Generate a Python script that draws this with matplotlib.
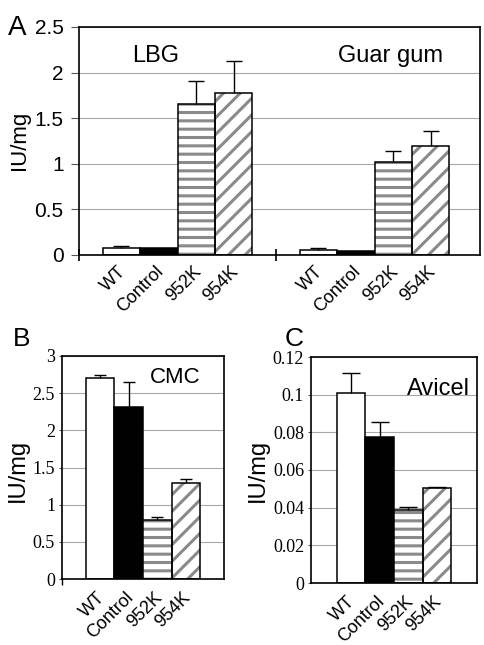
import matplotlib

matplotlib.use("Agg")
import matplotlib.pyplot as plt
import numpy as np
from matplotlib.transforms import ScaledTranslation

plt.rcParams["hatch.linewidth"] = 2.2

SANS = "Liberation Sans"
SERIF = "Liberation Serif"

strains = ["WT", "Control", "952K", "954K"]

# panel A: two substrates
a_groups = ["LBG", "Guar gum"]
a_values = [[0.08, 0.075, 1.66, 1.78], [0.06, 0.04, 1.02, 1.20]]
a_errors = [[0.02, 0.0, 0.25, 0.35], [0.02, 0.0, 0.12, 0.16]]

# panel B: CMC
b_values = [2.70, 2.31, 0.80, 1.29]
b_errors = [0.05, 0.34, 0.04, 0.06]

# panel C: Avicel
c_values = [0.101, 0.0774, 0.0388, 0.0504]
c_errors = [0.0103, 0.0079, 0.0014, 0.0007]

W, H = 485, 645
fig = plt.figure(figsize=(W / 100, H / 100), dpi=100)


def px_axes(left, top, right, bottom):
    return fig.add_axes([left / W, 1 - bottom / H, (right - left) / W, (bottom - top) / H])


def draw_bars(ax, xs, vals, errs, width, capsize):
    xs = np.asarray(xs)
    ax.bar(xs[0], vals[0], width, color="white", edgecolor="black", linewidth=1.1, zorder=2)
    ax.bar(xs[1], vals[1], width, color="black", edgecolor="black", linewidth=1.1, zorder=2)
    ax.bar(xs[2], vals[2], width, color="white", edgecolor="#8a8a8a", hatch="--", linewidth=0, zorder=2)
    ax.bar(xs[3], vals[3], width, color="white", edgecolor="#8a8a8a", hatch="//", linewidth=0, zorder=2)
    ax.bar(xs[2:], vals[2:], width, fill=False, edgecolor="black", linewidth=1.1, zorder=3)
    # upper error bars only
    for x, v, e in zip(xs, vals, errs):
        if e > 0:
            ax.vlines(x, v, v + e, color="black", linewidth=1.0, zorder=4)
            ax.plot([x], [v + e], marker="_", markersize=capsize, mew=1.0,
                    color="black", zorder=4)


def strain_labels(ax, xs, dy=-8, dx=-4):
    trans = ax.get_xaxis_transform() + ScaledTranslation(dx / 100, dy / 100, fig.dpi_scale_trans)
    for x, lab in zip(xs, strains):
        ax.text(x, 0, lab, transform=trans, rotation=45, ha="right", va="top",
                rotation_mode="anchor", fontsize=13, family=SANS)


def style_axes(ax, tick_font, tick_size, ylen, pad=3):
    for s in ax.spines.values():
        s.set_linewidth(1.2)
    ax.yaxis.grid(True, color="#a8a8a8", linewidth=0.8, zorder=0)
    ax.set_axisbelow(True)
    ax.tick_params(axis="y", length=ylen, width=0.8, color="#555555", pad=pad,
                   labelsize=tick_size, labelfontfamily=tick_font)


# ---- panel A ----
axA = px_axes(79, 27, 480, 255)
w = 0.19
offsets = np.array([-1.5, -0.5, 0.5, 1.5]) * w
for gi, (vals, errs) in enumerate(zip(a_values, a_errors)):
    xs = gi + offsets
    draw_bars(axA, xs, vals, errs, w, 12)
    strain_labels(axA, xs)
axA.set_xlim(-0.5, 1.535)
axA.set_ylim(0, 2.5)
axA.set_yticks([0, 0.5, 1, 1.5, 2, 2.5])
axA.set_yticklabels(["0", "0.5", "1", "1.5", "2", "2.5"])
axA.set_xticks([-0.5, 0.5])
axA.set_xticklabels([])
axA.tick_params(axis="x", direction="inout", length=8, width=1.2)
style_axes(axA, SANS, 15, 6, pad=5)
axA.text(0.19, 0.846, a_groups[0], transform=axA.transAxes, ha="center", va="baseline",
         fontsize=17, family=SANS)
axA.text(0.776, 0.846, a_groups[1], transform=axA.transAxes, ha="center", va="baseline",
         fontsize=17, family=SANS)
fig.text(20 / W, 1 - 140 / H, "IU/mg", rotation=90, ha="center", va="center", fontsize=16, family=SANS)
fig.text(8 / W, 1 - 35 / H, "A", ha="left", va="baseline", fontsize=20, family=SANS)

# ---- panel B ----
wb = 0.18
xs_b = np.array([-1.5, -0.5, 0.5, 1.5]) * wb
axB = px_axes(62, 356, 224, 579)
draw_bars(axB, xs_b, b_values, b_errors, wb, 9)
strain_labels(axB, xs_b, dy=-10, dx=-4)
axB.set_xlim(-0.51, 0.51)
axB.set_ylim(0, 3)
axB.set_yticks([0, 0.5, 1, 1.5, 2, 2.5, 3])
axB.set_yticklabels(["0", "0.5", "1", "1.5", "2", "2.5", "3"])
axB.set_xticks([-0.51])
axB.set_xticklabels([])
axB.tick_params(axis="x", length=4, width=1.0)
style_axes(axB, SERIF, 13, 2)
axB.text(0.70, 0.878, "CMC", transform=axB.transAxes, ha="center", va="baseline",
         fontsize=16, family=SANS)
fig.text(18 / W, 1 - 470 / H, "IU/mg", rotation=90, ha="center", va="center", fontsize=17, family=SANS)
fig.text(13 / W, 1 - 346 / H, "B", ha="left", va="baseline", fontsize=19, family=SANS)

# ---- panel C ----
wc = 0.18
xs_c = np.array([-1.5, -0.5, 0.5, 1.5]) * wc
axC = px_axes(311, 357, 477, 583)
draw_bars(axC, xs_c, c_values, c_errors, wc, 13)
strain_labels(axC, xs_c, dy=-10, dx=-4)
axC.set_xlim(-0.52, 0.52)
axC.set_ylim(0, 0.12)
axC.set_yticks([0, 0.02, 0.04, 0.06, 0.08, 0.1, 0.12])
axC.set_yticklabels(["0", "0.02", "0.04", "0.06", "0.08", "0.1", "0.12"])
axC.set_xticks([])
style_axes(axC, SERIF, 13, 2)
axC.text(0.77, 0.83, "Avicel", transform=axC.transAxes, ha="center", va="baseline",
         fontsize=17, family=SANS)
fig.text(258 / W, 1 - 470 / H, "IU/mg", rotation=90, ha="center", va="center", fontsize=17, family=SANS)
fig.text(285 / W, 1 - 346 / H, "C", ha="left", va="baseline", fontsize=19, family=SANS)

fig.savefig("out.png", dpi=100)
